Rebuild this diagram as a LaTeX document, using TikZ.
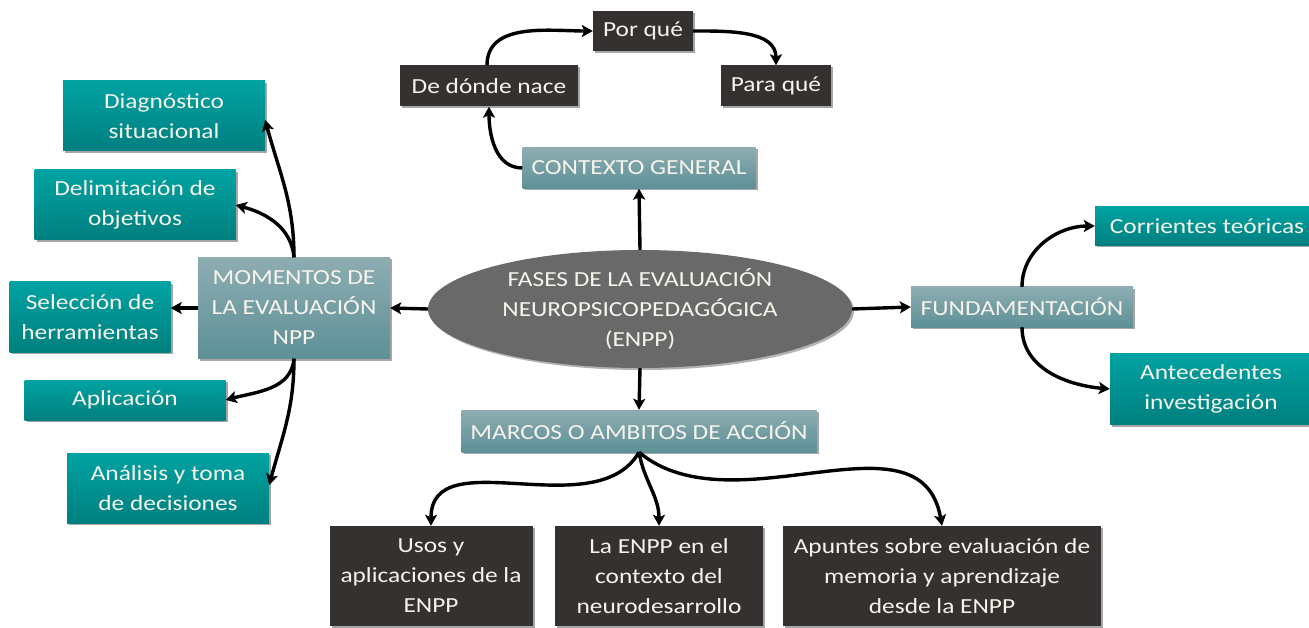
\documentclass[tikz,border=0pt]{standalone}
\usepackage{fontspec}
\setmainfont{Carlito}[FakeStretch=1.18]
\usetikzlibrary{shapes.geometric,arrows.meta,shadows}
\definecolor{tealtop}{HTML}{00A3A2}
\definecolor{tealbot}{HTML}{007F7F}
\definecolor{gtop}{HTML}{8DADB1}
\definecolor{gbot}{HTML}{5D9097}
\definecolor{darkbox}{HTML}{343130}
\definecolor{ellgray}{HTML}{696969}
\definecolor{txt}{HTML}{F7F4EC}
\begin{document}
\begin{tikzpicture}[x=1pt,y=1pt,
  base/.style={rectangle, inner sep=0pt, align=center, text=txt,
    font=\fontsize{21.5}{30}\selectfont,
    drop shadow={shadow xshift=2pt, shadow yshift=-2pt, opacity=0.35, fill=black}},
  tealbox/.style={base, top color=tealtop, bottom color=tealbot},
  graybox/.style={base, top color=gtop, bottom color=gbot},
  darkbox/.style={base, fill=darkbox},
  arr/.style={line width=3.4pt, -{Stealth[length=11pt,width=12pt,inset=2.5pt]}}
]
\fill[white] (0,0) rectangle (1309,-628);
\useasboundingbox (0,0) rectangle (1309,-628);

% top cluster
\node[darkbox, minimum width=100pt, minimum height=40pt] (porque) at (643,-31) {Por qué};
\node[darkbox, minimum width=178pt, minimum height=41pt] (donde) at (489,-86) {De dónde nace};
\node[darkbox, minimum width=110pt, minimum height=41pt] (para) at (776,-86) {Para qué};
\node[graybox, minimum width=233pt, minimum height=41pt] (ctx) at (639,-168) {CONTEXTO GENERAL};

% center
\node[ellipse, inner sep=0pt, minimum width=424pt, minimum height=118pt,
  fill=ellgray, text=txt, align=center, font=\fontsize{21.5}{30}\selectfont,
  drop shadow={shadow xshift=2pt, shadow yshift=-2pt, opacity=0.3, fill=black}]
  (ell) at (640,-309) {FASES DE LA EVALUACIÓN\\NEUROPSICOPEDAGÓGICA\\(ENPP)};

\node[graybox, minimum width=192pt, minimum height=101pt] (mom) at (294,-308) {MOMENTOS DE\\LA EVALUACIÓN\\NPP};
\node[graybox, minimum width=222pt, minimum height=40pt] (fund) at (1022,-307) {FUNDAMENTACIÓN};
\node[graybox, minimum width=355pt, minimum height=42pt] (marcos) at (639,-431) {MARCOS O AMBITOS DE ACCIÓN};

% left
\node[tealbox, minimum width=202pt, minimum height=70pt] (diag) at (164,-116) {Diagnóstico\\situacional};
\node[tealbox, minimum width=201pt, minimum height=70pt] (delim) at (135,-205) {Delimitación de\\objetivos};
\node[tealbox, minimum width=161pt, minimum height=70pt] (sel) at (90,-317) {Selección de\\herramientas};
\node[tealbox, minimum width=201pt, minimum height=40pt] (aplic) at (125,-400) {Aplicación};
\node[tealbox, minimum width=202pt, minimum height=70pt] (anal) at (168,-488) {Análisis y toma\\de decisiones};

% right
\node[tealbox, minimum width=224pt, minimum height=39pt] (corr) at (1207,-226) {Corrientes teóricas};
\node[tealbox, minimum width=202pt, minimum height=71pt] (ante) at (1211,-389) {Antecedentes\\investigación};

% bottom
\node[darkbox, minimum width=203pt, minimum height=100pt] (usos) at (431,-576) {Usos y\\aplicaciones de la\\ENPP};
\node[darkbox, minimum width=208pt, minimum height=100pt] (enpp) at (659,-576) {La ENPP en el\\contexto del\\neurodesarrollo};
\node[darkbox, minimum width=318pt, minimum height=100pt] (apun) at (942,-576) {Apuntes sobre evaluación de\\memoria y aprendizaje\\desde la ENPP};

% connectors
\draw[arr] (ell.north) -- (ctx.south);
\draw[arr] (ell.south) -- (marcos.north);
\draw[arr] (ell.west) -- (mom.east);
\draw[arr] (ell.east) -- (fund.west);
\draw[arr] (ctx.west) to[out=180,in=-90] (donde.south);
\draw[arr] ([xshift=-2pt]donde.north) to[out=90,in=180] (porque.west);
\draw[arr] (porque.east) to[out=0,in=90] (para.north);
\draw[arr] (mom.north) to[out=90,in=-75] ([yshift=-4pt]diag.east);
\draw[arr] (mom.north) to[out=95,in=-15] (delim.east);
\draw[arr] (mom.west) -- (mom.west -| sel.east);
\draw[arr] (mom.south) to[out=-95,in=15] (aplic.east);
\draw[arr] (mom.south) to[out=-90,in=75] ([yshift=3pt]anal.east);
\draw[arr] (fund.north) to[out=90,in=180] (corr.west);
\draw[arr] (fund.south) to[out=-90,in=175] (ante.west);
\draw[arr] (marcos.south) to[out=-120,in=90] (usos.north);
\draw[arr] (marcos.south) to[out=-80,in=90] (enpp.north);
\draw[arr] (marcos.south) to[out=-40,in=100] (apun.north);
\end{tikzpicture}
\end{document}
